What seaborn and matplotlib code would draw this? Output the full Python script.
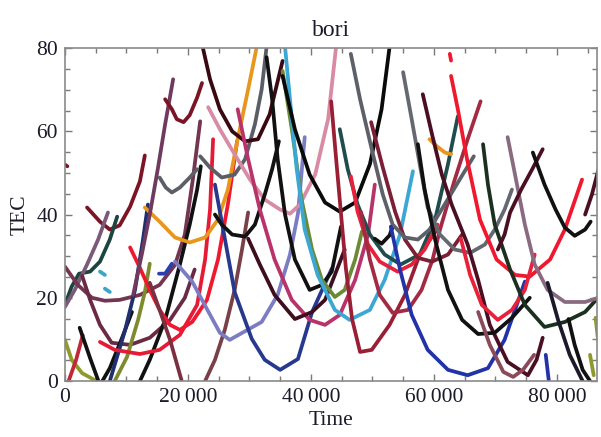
import matplotlib
matplotlib.use("Agg")
import matplotlib.pyplot as plt
from matplotlib.ticker import MultipleLocator, FuncFormatter
import seaborn as sns
import pandas as pd

# ---- data: each arc is a list of (Time [s], TEC) points ----
maroon_dot = [(0, 52.0), (400, 51.6)]
maroon_left = [(3600, 41.7), (5700, 38.3), (7300, 36.4), (8900, 37.4), (10600, 41.9), (12200, 48.0), (13000, 54.2)]
black_left = [(2400, 12.8), (4100, 5.5), (5700, -1.0), (7300, 3.1), (9300, 10.4), (10900, 16.6)]
black_steep = [(12200, 0.0), (13800, 5.1), (16300, 14.7), (18700, 28.0), (20300, 37.6), (21500, 46.0), (22100, 51.6)]
navy_steep = [(7300, 0.0), (9800, 12.3), (11400, 21.9), (12700, 34.0), (13500, 42.4)]
darkmaroon_top = [(22400, 80.3), (23600, 72.5), (25200, 65.3), (27200, 60.0), (29300, 57.6), (31400, 58.1), (33300, 64.1), (35400, 76.9)]
black_bigu = [(35400, 73.3), (37400, 60.5), (39800, 49.6), (42300, 42.9), (44700, 40.7), (47200, 42.9), (49600, 52.1), (51500, 65.3), (52800, 80.3)]
black_mid = [(32800, 77.8), (33700, 67.7), (34600, 53.3), (35800, 40.0), (37400, 29.2), (39800, 21.9), (41800, 23.1), (43400, 26.3), (44900, 37.1)]
black_35 = [(24400, 40.0), (25500, 37.6), (27200, 35.2), (29300, 34.7), (30900, 37.6), (32500, 44.8), (33700, 50.9), (34800, 57.6)]
black_right = [(57400, 56.9), (58500, 46.0), (60200, 34.0), (62300, 21.9), (64600, 14.7), (67200, 11.3), (69900, 11.6), (72700, 15.2), (75600, 20.0)]
dkgreen_right = [(68000, 56.9), (68800, 47.2), (69900, 37.6), (72400, 26.8), (74800, 18.3), (78000, 13.0), (81300, 14.2), (84600, 16.6), (86700, 20.0)]
black_far = [(76100, 54.9), (78000, 47.2), (79800, 41.2), (81300, 36.9), (82900, 34.9), (84600, 36.4), (85500, 38.3)]
black_low1 = [(78500, 23.6), (80200, 14.7), (82100, 6.3), (84200, 0.0)]
black_low2 = [(81900, 14.9), (82900, 8.7), (84200, 2.7), (85400, 0.0)]
black_hook = [(50400, 34.2), (51500, 33.0), (52800, 35.0), (53300, 37.1)]
red_left = [(10600, 32.1), (12200, 27.2), (13800, 21.9), (15400, 17.1), (17100, 13.5), (18700, 12.3), (20700, 14.2), (23100, 19.5), (24900, 29.2), (26500, 42.4), (28000, 57.6)]
red_low = [(5700, 9.4), (8100, 7.5), (12200, 6.5), (15400, 7.5), (18700, 11.1), (21500, 18.3), (22800, 29.2), (23600, 41.2), (24100, 58.1)]
red_tiny = [(600, 0.0), (1800, 5.0), (2900, 11.0)]
red_dot = [(62600, 78.6), (62800, 77.0)]
red_bigright = [(62800, 73.3), (63900, 65.3), (65400, 53.3), (67500, 38.8), (70200, 29.2), (73200, 25.5), (75600, 25.1), (78900, 29.2), (81300, 36.4), (84100, 48.4)]
red_smallright = [(64400, 34.2), (65900, 25.5), (67800, 18.3), (70400, 14.7), (72700, 17.1), (74800, 21.9), (76400, 30.4)]
red_mid = [(46500, 49.2), (47600, 40.7), (49300, 32.8), (51200, 28.7), (54100, 26.3), (56400, 28.0), (58500, 31.6), (60600, 37.6)]
orange_arc = [(13000, 41.7), (15400, 38.3), (17900, 34.5), (20300, 33.3), (22800, 34.5), (24900, 38.8), (26500, 46.0), (28100, 58.1), (29800, 70.1), (31200, 80.3)]
orange_short = [(59300, 58.1), (60500, 56.4), (61800, 54.9), (62800, 54.5)]
blue_center = [(24400, 47.2), (25500, 38.3), (27600, 21.4), (30400, 10.1), (32500, 5.1), (35000, 2.7), (37900, 5.3), (40200, 16.6), (43400, 27.0)]
blue_right = [(53000, 37.1), (54500, 26.8), (56400, 15.9), (59000, 7.5), (62300, 2.7), (65500, 1.4), (68800, 3.1), (71500, 9.9), (74800, 23.9)]
blue_short = [(78200, 6.3), (78700, 0.0)]
blue_hook = [(15300, 25.8), (16300, 25.8), (17400, 28.2)]
lavender_arc = [(17900, 28.7), (20700, 23.9), (23100, 17.3), (25200, 11.6), (26800, 9.9), (32000, 14.2), (34600, 20.7), (36600, 30.4), (37900, 40.2), (39000, 58.6)]
cyan_arc = [(35800, 80.3), (36600, 67.7), (37700, 50.9), (39000, 36.4), (41100, 25.5), (43900, 17.1), (46300, 14.7), (49600, 17.1), (52000, 24.3), (54500, 35.2), (56600, 50.4)]
cyan_dash1 = [(5700, 26.3), (6500, 25.5)]
cyan_dash2 = [(6500, 22.2), (7300, 21.4)]
olive_left = [(8100, 0.0), (10100, 5.8), (11900, 14.7), (13000, 21.4), (13800, 28.2)]
olive_bottom = [(0, 9.9), (1100, 5.1), (2800, 1.9), (4900, 0.2), (6500, -1.0)]
olive_mid = [(35400, 74.5), (36900, 60.5), (38500, 43.6), (40200, 31.6), (41800, 24.3), (43900, 20.2), (45500, 21.9), (47200, 29.2), (48300, 35.9)]
olive_dash1 = [(86300, 15.2), (86700, 9.9)]
olive_dash2 = [(85400, 6.3), (86000, 1.4)]
teal_left = [(0, 18.3), (1100, 22.7), (2300, 25.8), (4100, 26.3), (5700, 28.7), (7300, 34.0), (8500, 39.5)]
teal_center = [(44700, 60.5), (46000, 50.9), (47600, 42.4), (49600, 35.2), (52000, 30.4), (54600, 28.0), (57700, 30.4), (60200, 38.8), (62300, 52.1), (63900, 63.6)]
grey_small = [(15400, 48.9), (16400, 46.5), (17400, 45.3), (18700, 46.5), (20300, 48.9), (21500, 50.9)]
grey_big = [(22000, 54.0), (23600, 51.3), (25500, 48.9), (27600, 49.6), (29300, 53.3), (30900, 61.7), (32000, 70.1), (32800, 80.3)]
grey_mid = [(46500, 78.6), (48000, 67.7), (49900, 55.7), (51700, 44.8), (53300, 37.6), (55300, 34.5), (57400, 34.0), (59300, 36.4), (64400, 48.9), (66500, 54.0)]
grey_right = [(55000, 74.2), (56400, 62.9), (57700, 52.1), (59000, 41.7), (61000, 35.2), (63400, 31.6), (65900, 30.8), (68300, 32.8), (69900, 36.4), (71500, 41.2), (72700, 46.0)]
maroon_top = [(16300, 67.7), (17400, 65.3), (18200, 62.9), (19300, 62.2), (20300, 63.9), (21500, 68.1), (22300, 71.6)]
mauve_tall = [(11100, 20.7), (12500, 30.4), (13800, 40.0), (15100, 50.9), (16300, 61.7), (17600, 72.5)]
mauve_left = [(0, 17.8), (1600, 21.9), (3600, 28.0), (5400, 34.0), (7000, 40.5)]
mauve_arc = [(0, 27.5), (2100, 23.1), (4400, 20.0), (6500, 19.3), (8900, 19.5), (12200, 20.7), (15400, 23.1), (17900, 27.9), (19500, 35.2), (20800, 48.4), (22000, 62.4)]
plum_arc = [(2800, 25.3), (4100, 19.5), (5700, 13.5), (7600, 9.2), (10600, 8.7), (13800, 10.4), (17100, 14.7), (19500, 20.0), (21100, 26.8)]
brown_down = [(13800, 23.6), (15400, 17.1), (17100, 9.9), (19000, 0.0)]
brown_up = [(22800, 0.0), (24400, 5.1), (26000, 12.3), (27600, 21.9), (28800, 31.6), (29800, 40.5)]
pink_arc = [(23300, 65.8), (25200, 60.5), (27600, 54.5), (30100, 48.4), (32500, 43.6), (35000, 41.2), (36600, 40.2), (38200, 42.4), (40700, 49.6), (42800, 62.9), (44100, 80.3)]
rose_arc = [(28100, 65.3), (29800, 53.3), (31700, 41.2), (34100, 29.2), (36900, 19.5), (39800, 14.7), (42300, 13.5), (44700, 15.9), (47200, 24.3), (49300, 35.2), (50400, 47.2)]
darkmaroon_mid = [(29800, 34.2), (31700, 28.0), (34100, 20.7), (37400, 14.9), (40200, 16.6), (42300, 19.5), (43900, 25.5), (45500, 31.6)]
crimson_a = [(43300, 67.2), (44100, 53.5), (44900, 40.2), (45700, 27.0), (46700, 14.9), (48000, 7.0), (49900, 7.5), (52800, 13.5), (55300, 20.7), (57700, 30.4), (60600, 36.6)]
crimson_b = [(48100, 40.7), (49600, 29.2), (51200, 20.7), (53300, 16.4), (55800, 17.1), (58000, 21.9), (59800, 29.2), (61000, 36.4), (63400, 48.4), (65500, 58.1), (67600, 67.2)]
maroon_mid = [(49800, 62.2), (51700, 51.3), (53700, 40.7), (55300, 34.0), (57400, 29.6), (59700, 28.7), (62300, 30.4), (64600, 35.2)]
darkmaroon_right = [(58200, 68.9), (59700, 59.3), (61300, 49.6), (62900, 42.4), (64200, 37.6), (65500, 32.8), (67200, 24.3), (69100, 13.5), (72000, 4.6), (75300, 1.4), (76700, 5.1), (77700, 10.4)]
dusty_right = [(67200, 16.6), (69100, 8.7), (71300, 2.2), (72900, 1.0), (74500, 2.7), (76300, 6.3)]
mauve_right = [(72000, 58.6), (73200, 49.6), (74800, 37.6), (76400, 28.0), (78500, 21.9), (81300, 19.0), (84600, 19.0), (86700, 20.0)]
darkmaroon_rise = [(70400, 31.6), (71500, 35.2), (72400, 40.5), (74200, 46.0), (76000, 50.9), (77700, 55.7)]
darkmaroon_edge = [(84600, 40.0), (85700, 44.8), (86700, 50.4)]

arcs = [
    ("maroon_dot", maroon_dot, "#7b1526"),
    ("maroon_left", maroon_left, "#7b1526"),
    ("olive_bottom", olive_bottom, "#8f9a2c"),
    ("teal_left", teal_left, "#1d4540"),
    ("mauve_left", mauve_left, "#7a5a78"),
    ("mauve_arc", mauve_arc, "#73354f"),
    ("plum_arc", plum_arc, "#6a2a45"),
    ("red_tiny", red_tiny, "#c0283a"),
    ("black_left", black_left, "#111111"),
    ("navy_steep", navy_steep, "#1f2f70"),
    ("olive_left", olive_left, "#7d8a2e"),
    ("black_steep", black_steep, "#111111"),
    ("cyan_dash1", cyan_dash1, "#3aa6c8"),
    ("cyan_dash2", cyan_dash2, "#3aa6c8"),
    ("blue_hook", blue_hook, "#2a40b0"),
    ("red_low", red_low, "#e51b35"),
    ("red_left", red_left, "#f0182e"),
    ("orange_arc", orange_arc, "#e8961e"),
    ("brown_down", brown_down, "#7a3040"),
    ("brown_up", brown_up, "#7a4048"),
    ("lavender_arc", lavender_arc, "#7b7cc2"),
    ("mauve_tall", mauve_tall, "#6e3a5e"),
    ("maroon_top", maroon_top, "#7b1526"),
    ("grey_small", grey_small, "#5d5f66"),
    ("grey_big", grey_big, "#5a5e66"),
    ("darkmaroon_top", darkmaroon_top, "#3a0810"),
    ("pink_arc", pink_arc, "#d98aa5"),
    ("blue_center", blue_center, "#26398f"),
    ("black_35", black_35, "#111111"),
    ("rose_arc", rose_arc, "#b8336a"),
    ("darkmaroon_mid", darkmaroon_mid, "#3e0e1e"),
    ("black_mid", black_mid, "#111111"),
    ("olive_mid", olive_mid, "#6b8a35"),
    ("cyan_arc", cyan_arc, "#3ba7d4"),
    ("black_bigu", black_bigu, "#0a0a0a"),
    ("crimson_a", crimson_a, "#9a1f35"),
    ("teal_center", teal_center, "#1f4d4d"),
    ("red_mid", red_mid, "#e8203a"),
    ("black_hook", black_hook, "#111111"),
    ("crimson_b", crimson_b, "#a32a42"),
    ("maroon_mid", maroon_mid, "#7a1f35"),
    ("grey_mid", grey_mid, "#5d6068"),
    ("grey_right", grey_right, "#656870"),
    ("blue_right", blue_right, "#2233aa"),
    ("orange_short", orange_short, "#e8961e"),
    ("red_dot", red_dot, "#f0182e"),
    ("red_bigright", red_bigright, "#f0182e"),
    ("darkmaroon_right", darkmaroon_right, "#4a0f22"),
    ("black_right", black_right, "#111111"),
    ("red_smallright", red_smallright, "#e8203a"),
    ("dkgreen_right", dkgreen_right, "#1c3020"),
    ("dusty_right", dusty_right, "#8a4a5a"),
    ("mauve_right", mauve_right, "#8a6a80"),
    ("darkmaroon_rise", darkmaroon_rise, "#4a0f22"),
    ("black_far", black_far, "#111111"),
    ("black_low1", black_low1, "#1a1a2a"),
    ("black_low2", black_low2, "#111111"),
    ("blue_short", blue_short, "#2233aa"),
    ("olive_dash1", olive_dash1, "#8f9a2c"),
    ("olive_dash2", olive_dash2, "#8f9a2c"),
    ("darkmaroon_edge", darkmaroon_edge, "#4a0f22"),
]

rows = []
for name, pts, _c in arcs:
    for t, v in pts:
        rows.append((name, t, v))
df = pd.DataFrame(rows, columns=["arc", "Time", "TEC"])
palette = {name: c for name, _p, c in arcs}

sns.set_style("ticks")
plt.rcParams["font.family"] = ["Liberation Serif", "DejaVu Serif"]

fig = plt.figure(figsize=(6.01, 4.37), dpi=100)
ax = fig.add_axes([0.108, 0.128, 0.885, 0.762])

sns.lineplot(data=df, x="Time", y="TEC", hue="arc", palette=palette,
             sort=False, estimator=None, legend=False, linewidth=2.7, ax=ax)
for ln in ax.get_lines():
    ln.set_solid_joinstyle("round")
    ln.set_solid_capstyle("round")

ax.set_xlim(0, 86500)
ax.set_ylim(0, 80)
ax.xaxis.set_major_locator(MultipleLocator(20000))
ax.xaxis.set_minor_locator(MultipleLocator(5000))
ax.yaxis.set_major_locator(MultipleLocator(20))
ax.yaxis.set_minor_locator(MultipleLocator(5))
ax.xaxis.set_major_formatter(FuncFormatter(lambda v, p: f"{int(v):,}".replace(",", "\u2009")))
ax.tick_params(which="both", direction="in", top=True, right=True, colors="#7a7a7a",
               labelcolor="#1a1a2a", labelsize=15.5, width=1.0)
ax.tick_params(which="major", length=5, pad=5)
ax.tick_params(which="minor", length=3.5)
for s in ax.spines.values():
    s.set_color("#8a8a8a")
    s.set_linewidth(1.2)
ax.set_xlabel("Time", fontsize=15.5, color="#1a1a2a", labelpad=3)
ax.set_ylabel("TEC", fontsize=15.5, color="#1a1a2a", labelpad=5)
ax.set_title("bori", fontsize=17, color="#1a1a2a", pad=9)

fig.savefig("out.png", dpi=100)
